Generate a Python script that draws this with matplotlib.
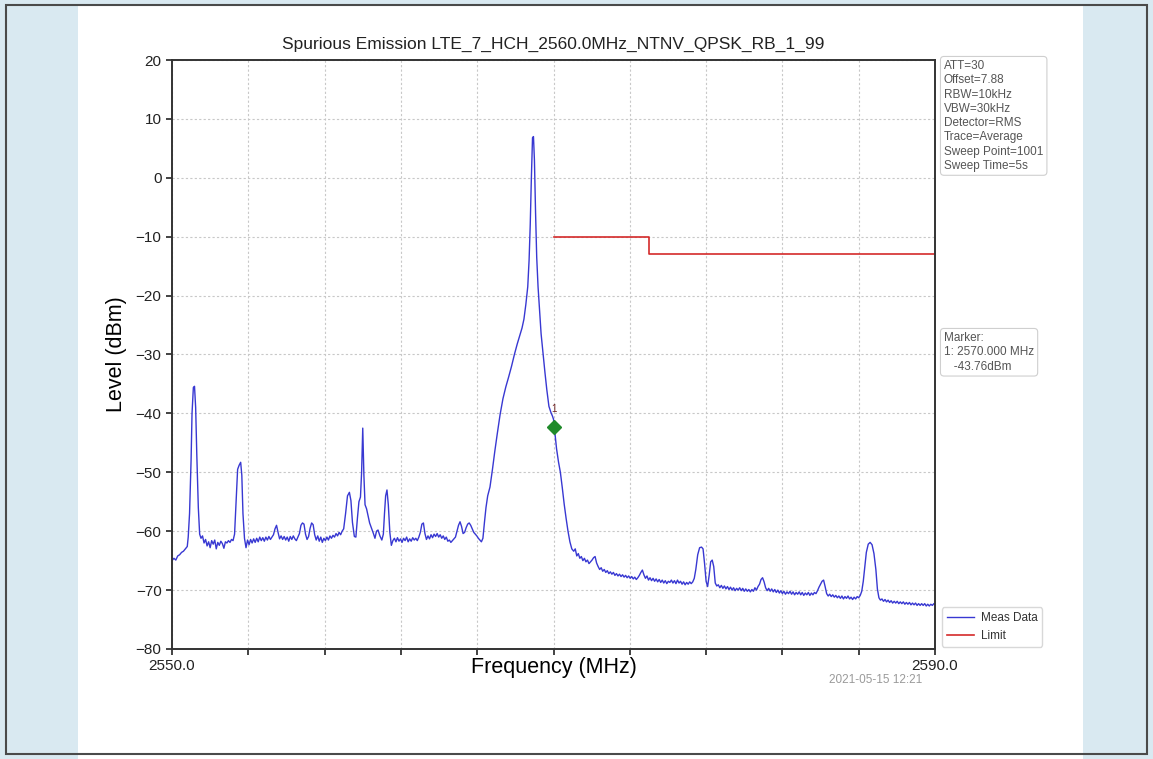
"""
Spurious emission plot for LTE band 7, high channel, redrawn with matplotlib.
"""

import matplotlib
matplotlib.use("Agg")
import matplotlib.pyplot as plt
from matplotlib.patches import Rectangle

plt.rcParams["font.family"] = ["Liberation Sans", "DejaVu Sans"]

TITLE = "Spurious Emission LTE_7_HCH_2560.0MHz_NTNV_QPSK_RB_1_99"

trace_points = [
    (2550.00, -65.0), (2550.10, -64.6), (2550.20, -64.9), (2550.30, -64.2),
    (2550.40, -64.0), (2550.50, -63.6), (2550.60, -63.4), (2550.70, -63.0),
    (2550.80, -62.6), (2550.85, -61.0), (2550.92, -57.0), (2551.00, -48.0),
    (2551.05, -40.0), (2551.12, -35.6), (2551.18, -35.4), (2551.24, -39.0),
    (2551.30, -47.0), (2551.38, -56.0), (2551.45, -60.5), (2551.52, -61.2),
    (2551.60, -60.8), (2551.68, -62.0), (2551.76, -61.4), (2551.84, -62.5),
    (2551.92, -61.8), (2552.00, -62.8), (2552.08, -61.6), (2552.16, -62.2),
    (2552.24, -61.5), (2552.32, -63.0), (2552.40, -61.9), (2552.48, -62.4),
    (2552.56, -61.7), (2552.64, -62.1), (2552.72, -62.9), (2552.80, -61.8),
    (2552.88, -62.0), (2552.96, -61.6), (2553.04, -61.9), (2553.12, -61.4),
    (2553.20, -61.6), (2553.28, -60.5), (2553.36, -55.0), (2553.44, -49.5),
    (2553.52, -48.8), (2553.60, -48.3), (2553.66, -50.5), (2553.72, -57.0),
    (2553.80, -61.2), (2553.88, -62.8), (2553.96, -61.5), (2554.04, -62.3),
    (2554.12, -61.4), (2554.20, -62.0), (2554.28, -61.3), (2554.36, -61.9),
    (2554.44, -61.2), (2554.52, -61.8), (2554.60, -61.0), (2554.68, -61.6),
    (2554.76, -61.1), (2554.84, -61.7), (2554.92, -61.0), (2555.00, -61.5),
    (2555.08, -60.9), (2555.16, -61.4), (2555.24, -61.0), (2555.32, -60.6),
    (2555.40, -59.6), (2555.48, -59.0), (2555.56, -60.2), (2555.64, -61.3),
    (2555.72, -60.8), (2555.80, -61.4), (2555.88, -60.9), (2555.96, -61.5),
    (2556.04, -61.0), (2556.12, -61.7), (2556.20, -60.9), (2556.28, -61.4),
    (2556.36, -60.8), (2556.44, -61.3), (2556.52, -61.6), (2556.60, -61.0),
    (2556.68, -60.4), (2556.76, -59.0), (2556.84, -58.6), (2556.92, -58.8),
    (2557.00, -60.5), (2557.08, -61.4), (2557.16, -60.9), (2557.24, -59.5),
    (2557.32, -58.6), (2557.40, -58.9), (2557.48, -60.6), (2557.56, -61.5),
    (2557.64, -60.8), (2557.72, -61.7), (2557.80, -61.0), (2557.88, -61.9),
    (2557.96, -61.2), (2558.04, -61.6), (2558.12, -61.0), (2558.20, -61.5),
    (2558.28, -60.8), (2558.36, -61.2), (2558.44, -60.7), (2558.52, -61.0),
    (2558.60, -60.4), (2558.68, -60.8), (2558.76, -60.2), (2558.84, -60.6),
    (2558.92, -60.0), (2559.00, -59.6), (2559.10, -57.0), (2559.20, -54.0),
    (2559.30, -53.4), (2559.38, -54.8), (2559.46, -58.5), (2559.56, -60.9),
    (2559.64, -61.0), (2559.72, -57.8), (2559.80, -55.0), (2559.88, -54.2),
    (2559.94, -50.0), (2560.00, -42.5), (2560.06, -50.5), (2560.12, -55.5),
    (2560.20, -56.2), (2560.28, -57.4), (2560.36, -58.6), (2560.46, -59.5),
    (2560.56, -60.4), (2560.64, -61.2), (2560.72, -60.0), (2560.80, -59.8),
    (2560.90, -60.8), (2561.00, -61.5), (2561.08, -60.5), (2561.14, -57.0),
    (2561.20, -54.0), (2561.27, -53.0), (2561.34, -55.5), (2561.42, -60.2),
    (2561.50, -62.4), (2561.58, -61.6), (2561.66, -61.2), (2561.74, -61.8),
    (2561.82, -61.1), (2561.90, -61.7), (2561.98, -61.3), (2562.06, -61.9),
    (2562.14, -61.2), (2562.22, -61.6), (2562.30, -61.0), (2562.38, -61.8),
    (2562.46, -61.3), (2562.54, -61.7), (2562.62, -61.1), (2562.70, -61.5),
    (2562.78, -61.2), (2562.86, -61.6), (2562.94, -61.0), (2563.02, -60.2),
    (2563.10, -58.8), (2563.18, -58.6), (2563.26, -60.4), (2563.34, -61.4),
    (2563.42, -60.8), (2563.50, -61.3), (2563.58, -60.6), (2563.66, -61.1),
    (2563.74, -60.5), (2563.82, -60.9), (2563.90, -60.4), (2563.98, -61.0),
    (2564.06, -60.6), (2564.14, -61.2), (2564.22, -60.8), (2564.30, -61.4),
    (2564.38, -61.0), (2564.46, -61.7), (2564.54, -61.5), (2564.62, -61.9),
    (2564.70, -61.6), (2564.78, -61.3), (2564.86, -61.0), (2564.94, -60.0),
    (2565.02, -59.0), (2565.10, -58.4), (2565.18, -59.2), (2565.26, -60.4),
    (2565.34, -60.2), (2565.42, -59.4), (2565.50, -58.8), (2565.58, -58.6),
    (2565.66, -59.0), (2565.74, -59.6), (2565.82, -60.2), (2565.90, -60.5),
    (2565.98, -60.8), (2566.06, -61.2), (2566.14, -61.5), (2566.22, -61.8),
    (2566.30, -61.2), (2566.38, -58.5), (2566.46, -56.0), (2566.55, -54.0),
    (2566.67, -52.5), (2566.80, -49.5), (2566.92, -46.5), (2567.05, -43.5),
    (2567.20, -40.2), (2567.35, -37.5), (2567.50, -35.5), (2567.65, -33.8),
    (2567.80, -32.0), (2567.95, -30.0), (2568.10, -28.2), (2568.25, -26.6),
    (2568.35, -25.5), (2568.45, -24.0), (2568.55, -21.5), (2568.65, -18.5),
    (2568.72, -14.0), (2568.78, -8.0), (2568.84, 0.0), (2568.90, 6.8),
    (2568.95, 7.0), (2569.00, 3.0), (2569.06, -6.0), (2569.12, -13.5),
    (2569.19, -18.5), (2569.27, -22.5), (2569.35, -26.5), (2569.45, -29.8),
    (2569.55, -33.0), (2569.65, -36.0), (2569.76, -38.8), (2569.86, -39.8),
    (2569.95, -40.5), (2570.00, -41.0), (2570.08, -43.5), (2570.16, -46.0),
    (2570.26, -48.2), (2570.36, -50.0), (2570.46, -52.6), (2570.56, -55.4),
    (2570.66, -57.8), (2570.76, -60.0), (2570.86, -61.8), (2570.96, -63.0),
    (2571.06, -63.4), (2571.14, -63.0), (2571.22, -64.2), (2571.30, -63.8),
    (2571.38, -64.6), (2571.46, -64.3), (2571.54, -65.0), (2571.62, -64.6),
    (2571.70, -65.2), (2571.78, -64.9), (2571.86, -65.5), (2571.94, -65.2),
    (2572.02, -64.9), (2572.10, -64.5), (2572.18, -64.3), (2572.26, -65.4),
    (2572.34, -66.0), (2572.42, -66.5), (2572.50, -66.2), (2572.58, -66.8),
    (2572.66, -66.5), (2572.74, -67.0), (2572.82, -66.7), (2572.90, -67.2),
    (2572.98, -66.9), (2573.06, -67.3), (2573.14, -67.0), (2573.22, -67.5),
    (2573.30, -67.2), (2573.38, -67.6), (2573.46, -67.3), (2573.54, -67.7),
    (2573.62, -67.4), (2573.70, -67.8), (2573.78, -67.5), (2573.86, -67.9),
    (2573.94, -67.6), (2574.02, -68.0), (2574.10, -67.7), (2574.18, -68.1),
    (2574.26, -67.8), (2574.34, -68.2), (2574.42, -67.9), (2574.50, -67.5),
    (2574.58, -67.0), (2574.66, -66.6), (2574.74, -67.4), (2574.82, -68.0),
    (2574.90, -67.6), (2574.98, -68.3), (2575.06, -67.9), (2575.14, -68.4),
    (2575.22, -68.0), (2575.30, -68.5), (2575.38, -68.1), (2575.46, -68.6),
    (2575.54, -68.2), (2575.62, -68.7), (2575.70, -68.3), (2575.78, -68.8),
    (2575.86, -68.4), (2575.94, -68.9), (2576.02, -68.5), (2576.10, -68.7),
    (2576.18, -68.3), (2576.26, -68.8), (2576.34, -68.4), (2576.42, -68.9),
    (2576.50, -68.3), (2576.58, -68.8), (2576.66, -68.5), (2576.74, -69.0),
    (2576.82, -68.6), (2576.90, -69.1), (2576.98, -68.7), (2577.06, -69.0),
    (2577.14, -68.6), (2577.22, -68.9), (2577.30, -68.6), (2577.38, -68.0),
    (2577.46, -66.5), (2577.56, -64.0), (2577.66, -62.8), (2577.76, -62.7),
    (2577.84, -63.0), (2577.92, -65.5), (2578.00, -68.5), (2578.08, -69.4),
    (2578.16, -67.5), (2578.24, -65.2), (2578.32, -64.9), (2578.40, -66.0),
    (2578.48, -68.8), (2578.56, -69.3), (2578.64, -69.1), (2578.72, -69.6),
    (2578.80, -69.2), (2578.88, -69.7), (2578.96, -69.3), (2579.04, -69.8),
    (2579.12, -69.4), (2579.20, -69.9), (2579.28, -69.5), (2579.36, -70.0),
    (2579.44, -69.6), (2579.52, -70.1), (2579.60, -69.7), (2579.68, -70.0),
    (2579.76, -69.6), (2579.84, -70.1), (2579.92, -69.7), (2580.00, -70.2),
    (2580.08, -69.8), (2580.16, -70.2), (2580.24, -69.9), (2580.32, -70.3),
    (2580.40, -69.9), (2580.48, -70.2), (2580.56, -69.6), (2580.64, -70.0),
    (2580.72, -69.4), (2580.80, -69.0), (2580.88, -68.2), (2580.96, -67.9),
    (2581.04, -68.6), (2581.12, -69.6), (2581.20, -70.1), (2581.28, -69.7),
    (2581.36, -70.2), (2581.44, -69.8), (2581.52, -70.3), (2581.60, -69.9),
    (2581.68, -70.4), (2581.76, -70.0), (2581.84, -70.5), (2581.92, -70.1),
    (2582.00, -70.6), (2582.08, -70.2), (2582.16, -70.7), (2582.24, -70.3),
    (2582.32, -70.6), (2582.40, -70.2), (2582.48, -70.7), (2582.56, -70.3),
    (2582.64, -70.8), (2582.72, -70.4), (2582.80, -70.7), (2582.88, -70.3),
    (2582.96, -70.8), (2583.04, -70.4), (2583.12, -70.9), (2583.20, -70.5),
    (2583.28, -70.8), (2583.36, -70.4), (2583.44, -70.9), (2583.52, -70.5),
    (2583.60, -70.8), (2583.68, -70.4), (2583.76, -70.6), (2583.84, -70.1),
    (2583.92, -69.5), (2584.00, -69.0), (2584.08, -68.5), (2584.16, -68.3),
    (2584.24, -69.4), (2584.32, -70.6), (2584.40, -71.0), (2584.48, -70.7),
    (2584.56, -71.1), (2584.64, -70.8), (2584.72, -71.2), (2584.80, -70.9),
    (2584.88, -71.3), (2584.96, -71.0), (2585.04, -71.4), (2585.12, -71.0),
    (2585.20, -71.5), (2585.28, -71.1), (2585.36, -71.4), (2585.44, -71.0),
    (2585.52, -71.5), (2585.60, -71.2), (2585.68, -71.6), (2585.76, -71.2),
    (2585.84, -71.5), (2585.92, -71.1), (2586.00, -71.3), (2586.08, -70.9),
    (2586.16, -70.2), (2586.24, -68.5), (2586.32, -66.0), (2586.40, -63.6),
    (2586.50, -62.2), (2586.60, -61.9), (2586.70, -62.3), (2586.80, -63.8),
    (2586.90, -66.5), (2586.98, -69.8), (2587.06, -71.3), (2587.14, -71.7),
    (2587.22, -71.5), (2587.30, -71.9), (2587.38, -71.6), (2587.46, -72.0),
    (2587.54, -71.7), (2587.62, -72.1), (2587.70, -71.8), (2587.78, -72.2),
    (2587.86, -71.9), (2587.94, -72.2), (2588.02, -71.9), (2588.10, -72.3),
    (2588.18, -72.0), (2588.26, -72.3), (2588.34, -72.0), (2588.42, -72.4),
    (2588.50, -72.1), (2588.58, -72.4), (2588.66, -72.1), (2588.74, -72.5),
    (2588.82, -72.2), (2588.90, -72.5), (2588.98, -72.2), (2589.06, -72.6),
    (2589.14, -72.3), (2589.22, -72.6), (2589.30, -72.3), (2589.38, -72.6),
    (2589.46, -72.3), (2589.54, -72.7), (2589.62, -72.4), (2589.70, -72.7),
    (2589.78, -72.4), (2589.86, -72.6), (2589.94, -72.3), (2590.00, -72.5),
]
freq_mhz = [p[0] for p in trace_points]
level_dbm = [p[1] for p in trace_points]

# limit line (steps)
limit_freq = [2570.0, 2575.0, 2590.0]
limit_level = [-10.0, -13.0, -13.0]

# marker 1
marker_freq = 2570.0
marker_level = -42.3
marker_text = "Marker:\n1: 2570.000 MHz\n   -43.76dBm"

settings = ["ATT=30", "Offset=7.88", "RBW=10kHz", "VBW=30kHz",
            "Detector=RMS", "Trace=Average", "Sweep Point=1001",
            "Sweep Time=5s"]

x_ticks = [2550, 2554, 2558, 2562, 2566, 2570, 2574, 2578, 2582, 2586, 2590]
x_ticklabels = ["2550.0", "", "", "", "", "", "", "", "", "", "2590.0"]
y_ticks = [-80, -70, -60, -50, -40, -30, -20, -10, 0, 10, 20]
timestamp = "2021-05-15 12:21"

W, H = 1153, 759
fig = plt.figure(figsize=(W / 100, H / 100), dpi=100)
fig.patch.set_facecolor("#d9e9f1")

# white sheet behind the plot + outer frame
fig.patches.append(Rectangle((78 / W, 0), (1083 - 78) / W, 1 - 6 / H,
                             transform=fig.transFigure, facecolor="white",
                             edgecolor="none", zorder=-2))
fig.patches.append(Rectangle((6 / W, 5 / H), (1147 - 6) / W, (754 - 5) / H,
                             transform=fig.transFigure, facecolor="none",
                             edgecolor="#4a4a4a", lw=1.5, zorder=-1))

ax = fig.add_axes([172 / W, 1 - 649 / H, (935 - 172) / W, (649 - 60) / H])
ax.set_zorder(3)
ax.set_facecolor("white")

ax.plot(freq_mhz, level_dbm, color="#3838d2", lw=1.0, label="Meas Data")
ax.plot(limit_freq, limit_level, color="#d42a2a", lw=1.2,
        drawstyle="steps-post", label="Limit")
ax.plot([marker_freq], [marker_level], marker="D", color="#1f8a2a",
        markersize=7, linestyle="none")
ax.text(marker_freq, marker_level + 2.2, "1", fontsize=7, color="#6b2020",
        ha="center", va="bottom")

ax.set_xlim(2550, 2590)
ax.set_ylim(-80, 20)
ax.set_xticks(x_ticks)
ax.set_xticklabels(x_ticklabels)
ax.set_yticks(y_ticks)
ax.tick_params(direction="out", length=4, width=1.2, labelsize=11,
               colors="#222222")
ax.grid(True, color="#c8c8c8", linestyle=(0, (2, 2)), lw=0.8)
for s in ax.spines.values():
    s.set_linewidth(1.4)
    s.set_color("#333333")

ax.set_title(TITLE, fontsize=12.5, color="#222222", pad=8)
ax.set_ylabel("Level (dBm)", fontsize=15.5, labelpad=6)
ax.set_xlabel("Frequency (MHz)", fontsize=15.5, va="center")
ax.xaxis.set_label_coords(0.5, (649 - 668) / 589)

box = dict(boxstyle="round,pad=0.3", facecolor="white", edgecolor="#cfcfcf",
           lw=0.8)
fig.text(944 / W, 1 - 60 / H, "\n".join(settings), fontsize=8.5,
         color="#555555", va="top", ha="left", linespacing=1.25, bbox=box,
         zorder=4)
fig.text(944 / W, 1 - 332 / H, marker_text, fontsize=8.5, color="#555555",
         va="top", ha="left", linespacing=1.25, bbox=box, zorder=4)

ax.legend(loc="lower left", bbox_to_anchor=(1.006, 0.0), fontsize=8.5,
          frameon=True, fancybox=True, edgecolor="#cfcfcf",
          handlelength=2.3, handletextpad=0.6, borderaxespad=0.2,
          labelcolor="#333333")

fig.text(876 / W, 1 - 680 / H, timestamp, fontsize=8.5, color="#9a9a9a",
         ha="center", va="center")

fig.savefig("out.png", dpi=100, facecolor=fig.get_facecolor())
